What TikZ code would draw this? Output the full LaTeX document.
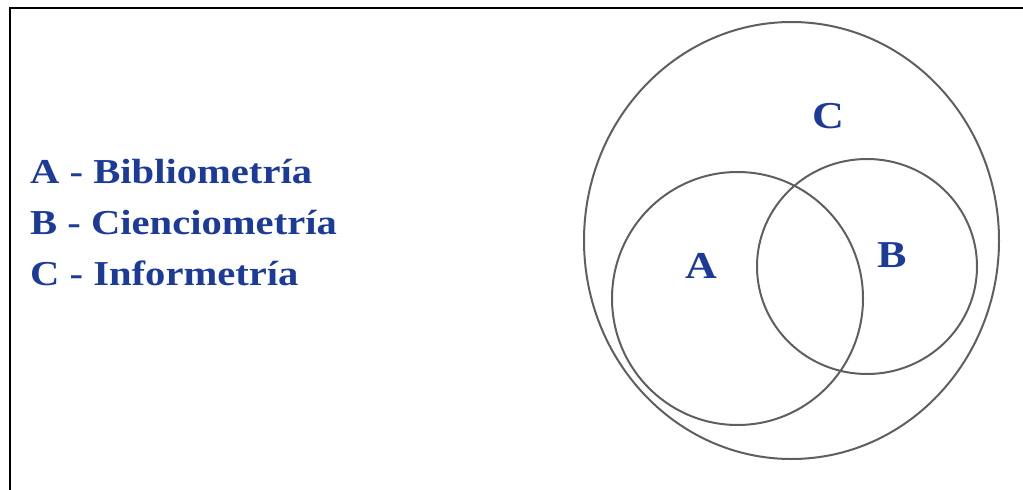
\documentclass[tikz,border=0pt]{standalone}
\usepackage{fontspec}
\setmainfont{Liberation Serif}
\definecolor{txtblue}{RGB}{28,58,152}
\definecolor{ringgray}{RGB}{95,95,95}
\newcommand{\wide}[1]{\scalebox{1.16}[1]{#1}}
\begin{document}
\begin{tikzpicture}[x=1pt,y=-1pt,
  legend/.style={anchor=base west,inner sep=0pt,text=txtblue,font=\fontsize{35}{35}\selectfont\bfseries},
  setlabel/.style={anchor=base,inner sep=0pt,text=txtblue,font=\fontsize{38}{38}\selectfont\bfseries},
  ring/.style={draw=ringgray,line width=2pt}]
\useasboundingbox (0,0) rectangle (1023,490);
\draw[line width=2.2pt] (10,490) -- (10,8) -- (1023,8);
\node[legend] (la) at (30,183) {\wide{A - Bibliometría}};
\node[legend] (lb) at (30,234) {\wide{B - Cienciometría}};
\node[legend] (lc) at (30,285) {\wide{C - Informetría}};
\draw[ring] (791.5,240.5) ellipse [x radius=207.5,y radius=218.5];
\draw[ring] (737.5,298.5) ellipse [x radius=125.5,y radius=126.5];
\draw[ring] (867,266.5) ellipse [x radius=110,y radius=107.5];
\node[setlabel] (c) at (828,128) {\wide{C}};
\node[setlabel] (a) at (701,278) {\wide{A}};
\node[setlabel] (b) at (892,267) {\wide{B}};
\end{tikzpicture}
\end{document}
